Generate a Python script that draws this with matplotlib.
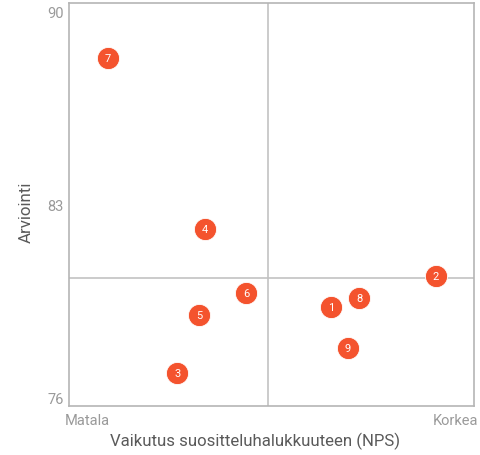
import matplotlib
matplotlib.use("Agg")
import matplotlib.pyplot as plt
import numpy as np

plt.rcParams["font.family"] = ["Roboto", "DejaVu Sans"]

# data (x on a 0-100 impact scale, y = rating)
ids = ["1", "2", "3", "4", "5", "6", "7", "8", "9"]
impact = [64.7, 90.6, 26.7, 33.6, 32.1, 43.7, 9.6, 71.6, 68.9]
rating = [79.3, 80.4, 76.9, 82.1, 79.0, 79.8, 88.3, 79.6, 77.8]
y_ticks = [76, 83, 90]
x_tick_labels = ["Matala", "Korkea"]

DOT = "#f4532e"
FRAME = "#b5b5b5"

fig = plt.figure(figsize=(4.8, 4.56), dpi=100)
ax = fig.add_axes([0.144, 0.1075, 0.8435, 0.8835])

# quadrant lines at the means
x_mean = np.mean(impact)
y_mean = np.mean(rating)
ax.axvline(x_mean, color="#c2c2c2", lw=1.2, zorder=1)
ax.axhline(y_mean, color="#c2c2c2", lw=1.2, zorder=1)

ax.scatter(impact, rating, s=255, color=DOT, edgecolors="white", linewidths=0.6, zorder=3)
for label, x, y in zip(ids, impact, rating):
    ax.text(x, y, label, color="white", fontsize=8, ha="center", va="center", zorder=4)

ax.set_xlim(0, 100)
ax.set_ylim(75.7, 90.3)
ax.set_yticks(y_ticks)
ax.set_xticks([4.5, 95.5])
ax.set_xticklabels(x_tick_labels)
ax.tick_params(length=0, colors="#9a9a9a", labelsize=10.5)
ax.tick_params(axis="y", pad=4)
ax.tick_params(axis="x", pad=5)

for spine in ax.spines.values():
    spine.set_color(FRAME)
    spine.set_linewidth(1.2)

ax.set_xlabel("Vaikutus suositteluhalukkuuteen (NPS)", color="#5a5a5a", fontsize=12.1)
ax.set_ylabel("Arviointi", color="#5a5a5a", fontsize=12.2)
ax.xaxis.set_label_coords(0.46, -0.063)
ax.yaxis.set_label_coords(-0.087, 0.484)

fig.savefig("out.png", dpi=100)
